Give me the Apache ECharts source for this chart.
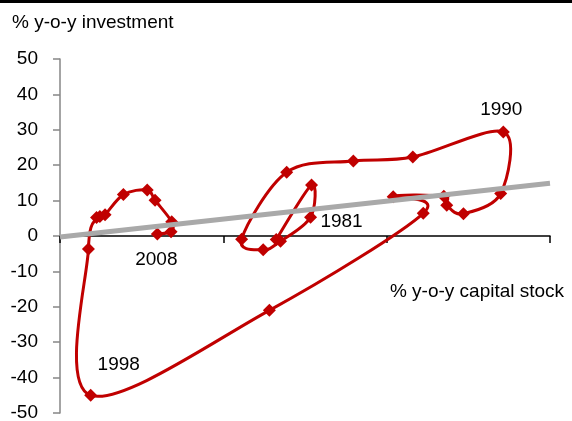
<!DOCTYPE html>
<html>
<head>
<meta charset="utf-8">
<script src="https://cdn.jsdelivr.net/npm/echarts@6/dist/echarts.min.js"></script>
<style>
  html, body { margin: 0; padding: 0; background: #fff; }
  #chart { width: 572px; height: 421px; }
</style>
</head>
<body>
<div id="chart"></div>
<script>
// Capital stock growth vs investment growth, one point per year (1981-2008)
const capitalStock = [6.62, 7.70, 7.67, 6.75, 6.22, 5.56, 6.94, 8.98, 10.80, 13.57,
                      13.49, 12.35, 11.84, 11.75, 10.20, 11.12, 6.41, 0.94, 0.87, 1.12,
                      1.22, 1.38, 1.94, 2.67, 2.91, 3.42, 3.40, 2.98];
const investment   = [-1.0, 14.4, 5.3, -1.5, -3.9, -0.9, 18.0, 21.2, 22.3, 29.4,
                      12.0, 6.3, 8.7, 11.2, 11.1, 6.4, -21.0, -45.0, -3.7, 5.2,
                      5.5, 6.0, 11.7, 13.0, 10.1, 4.0, 1.2, 0.6];

// Year annotations and the point each one sits beside
const labelText  = ['1981', '1990', '1998', '2008'];
const labelPoint = [2, 9, 17, 27];

// Trend line end points
const trendX = [0, 15];
const trendY = [-0.3, 14.9];

// Axis ranges
const xTicks = { min: 0, max: 15, step: 5 };
const yTicks = { min: -50, max: 50, step: 10 };

const FONT = 'Liberation Sans, Arial, sans-serif';
const RED = '#c00000';
const labelOffsets = {
  '1981': [31, 5],
  '1990': [-2, -22],
  '1998': [28, -31],
  '2008': [-1, 26]
};

const n = capitalStock.length;
const pt = i => {
  const j = Math.max(0, Math.min(n - 1, i));
  return [capitalStock[j], investment[j]];
};

// One curve segment per pair of neighbouring years, with the neighbours carried along for the tangents
const segmentData = [];
for (let i = 0; i < n - 1; i++) {
  segmentData.push([].concat(pt(i - 1), pt(i), pt(i + 1), pt(i + 2)));
}

const markerData = capitalStock.map((x, i) => {
  const item = { value: [x, investment[i]] };
  const k = labelPoint.indexOf(i);
  if (k >= 0) {
    const t = labelText[k];
    item.label = {
      show: true,
      position: 'inside',
      offset: labelOffsets[t],
      formatter: t,
      color: '#000',
      textBorderWidth: 0,
      fontSize: 19,
      fontFamily: FONT
    };
  }
  return item;
});

function renderSegment(params, api) {
  const p0 = api.coord([api.value(0), api.value(1)]);
  const p1 = api.coord([api.value(2), api.value(3)]);
  const p2 = api.coord([api.value(4), api.value(5)]);
  const p3 = api.coord([api.value(6), api.value(7)]);
  const k = 1 / 6;
  const c1 = [p1[0] + (p2[0] - p0[0]) * k, p1[1] + (p2[1] - p0[1]) * k];
  const c2 = [p2[0] - (p3[0] - p1[0]) * k, p2[1] - (p3[1] - p1[1]) * k];
  return {
    type: 'bezierCurve',
    shape: { x1: p1[0], y1: p1[1], x2: p2[0], y2: p2[1], cpx1: c1[0], cpy1: c1[1], cpx2: c2[0], cpy2: c2[1] },
    style: { stroke: RED, lineWidth: 3, fill: null }
  };
}

const chart = echarts.init(document.getElementById('chart'), null, { renderer: 'canvas' });
chart.setOption({
  animation: false,
  backgroundColor: '#fff',
  grid: { left: 60, right: 22, top: 59, bottom: 8, containLabel: false, outerBoundsMode: 'none' },
  xAxis: {
    type: 'value',
    min: xTicks.min, max: xTicks.max, interval: xTicks.step,
    axisLine: { show: true, onZero: true, lineStyle: { color: '#000', width: 1.5 } },
    axisTick: { show: true, length: 7, lineStyle: { color: '#000', width: 1.5 } },
    axisLabel: { margin: 24, fontSize: 19, color: '#000', fontFamily: FONT },
    splitLine: { show: false }
  },
  yAxis: {
    type: 'value',
    min: yTicks.min, max: yTicks.max, interval: yTicks.step,
    axisLine: { show: true, onZero: false, lineStyle: { color: '#868686', width: 1.5 } },
    axisTick: { show: true, length: 7, lineStyle: { color: '#868686', width: 1.5 } },
    axisLabel: { margin: 22, fontSize: 19, color: '#000', fontFamily: FONT },
    splitLine: { show: false }
  },
  graphic: [
    { type: 'rect', left: 0, top: 0, shape: { width: 572, height: 3 }, style: { fill: '#000' } },
    { type: 'text', left: 12, top: 13,
      style: { text: '% y-o-y investment', fontSize: 19, fontFamily: FONT, fill: '#000' } },
    { type: 'text', x: 477, y: 292,
      style: { text: '% y-o-y capital stock', fontSize: 19, fontFamily: FONT, fill: '#000',
               textAlign: 'center', textVerticalAlign: 'middle' } }
  ],
  series: [
    {
      name: 'path',
      type: 'custom',
      data: segmentData,
      renderItem: renderSegment,
      encode: { x: [0, 2, 4, 6], y: [1, 3, 5, 7] },
      silent: true,
      clip: false,
      z: 2
    },
    {
      name: 'years',
      type: 'scatter',
      data: markerData,
      symbol: 'diamond',
      symbolSize: 13,
      itemStyle: { color: RED, opacity: 1 },
      z: 3
    },
    {
      name: 'trend',
      type: 'line',
      data: trendX.map((x, i) => [x, trendY[i]]),
      symbol: 'none',
      lineStyle: { color: '#a9a9a9', width: 5 },
      z: 4
    }
  ]
});
</script>
</body>
</html>
